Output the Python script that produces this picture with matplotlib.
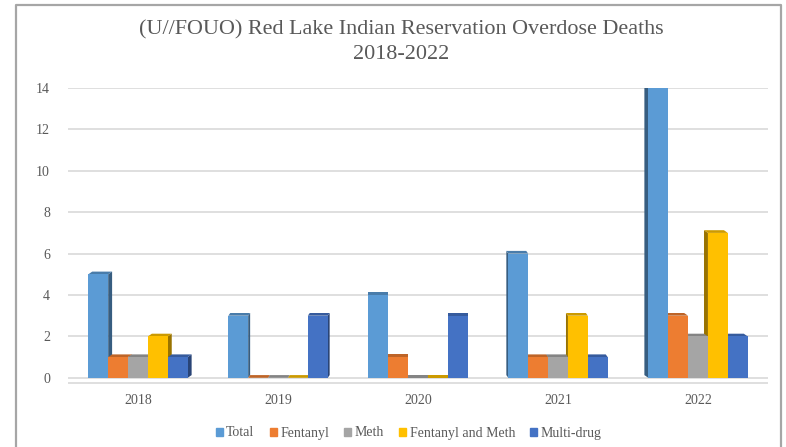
import matplotlib.pyplot as plt
from matplotlib.patches import Polygon, Rectangle
from matplotlib.colors import to_rgb
import numpy as np

years = ['2018', '2019', '2020', '2021', '2022']
series = ['Total', 'Fentanyl', 'Meth', 'Fentanyl and Meth', 'Multi-drug']
total = [5, 3, 4, 6, 14]
fentanyl = [1, 0, 1, 1, 3]
meth = [1, 0, 0, 1, 2]
fent_meth = [2, 0, 0, 3, 7]
multi = [1, 3, 3, 1, 2]
colors = ['#5B9BD5', '#ED7D31', '#A5A5A5', '#FFC000', '#4472C4']

plt.rcParams['font.family'] = ['Liberation Serif', 'DejaVu Serif']

fig = plt.figure(figsize=(7.86, 4.47), dpi=100)
W, H = 786, 447
ax = fig.add_axes([68 / W, (H - 384) / H, 700 / W, (384 - 88) / H])

# chart border (open at the bottom, like the cropped screenshot)
fig.add_artist(plt.Line2D([16 / W, 16 / W, 781 / W, 781 / W],
                          [0, 1 - 5 / H, 1 - 5 / H, 0],
                          transform=fig.transFigure, color='#a6a6a6', lw=1.6))


def shade(c, f):
    r, g, b = to_rgb(c)
    return (r * f, g * f, b * f)


x = np.arange(len(years))
bw = 0.142
data = [total, fentanyl, meth, fent_meth, multi]
dy = 0.13
for j, (vals, c) in enumerate(zip(data, colors)):
    xs = x - 2 * bw + j * bw
    ax.bar(xs, vals, width=bw, color=c, zorder=3, label=series[j])
    for i, (xc, v) in enumerate(zip(xs, vals)):
        dx = (2 - i) * 0.014
        x0, x1 = xc - bw / 2, xc + bw / 2
        if dx > 0:
            side = [(x1, 0), (x1 + dx, dy), (x1 + dx, v + dy), (x1, v)]
        else:
            side = [(x0, 0), (x0 + dx, dy), (x0 + dx, v + dy), (x0, v)]
        if dx != 0:
            ax.add_patch(Polygon(side, closed=True, color=shade(c, 0.6), zorder=2.9, lw=0))
        top = [(x0, v), (x0 + dx, v + dy), (x1 + dx, v + dy), (x1, v)]
        ax.add_patch(Polygon(top, closed=True, color=shade(c, 0.8), zorder=2.95, lw=0))

ax.set_xlim(-0.5, 4.5)
ax.set_ylim(-0.3, 14)
ax.set_yticks(range(0, 15, 2))
ax.set_xticks(x)
ax.set_xticklabels(years)
ax.yaxis.grid(True, color='#d9d9d9', lw=1.2, zorder=0)
ax.axhline(-0.25, color='#d9d9d9', lw=1.2, zorder=1)
for s in ax.spines.values():
    s.set_visible(False)
ax.tick_params(length=0, labelsize=10, labelcolor='#595959')
ax.tick_params(axis='y', pad=13)
ax.tick_params(axis='x', pad=7)

fig.text(0.51, 1 - 42 / H, '(U//FOUO) Red Lake Indian Reservation Overdose Deaths\n2018-2022',
         ha='center', va='center', fontsize=15.9, color='#595959', linespacing=1.4)

handles = [Rectangle((0, 0), 1, 1, color=c) for c in colors]
fig.legend(handles, series, loc='center', bbox_to_anchor=(0.52, 1 - 433 / H), ncol=5,
           frameon=False, fontsize=10, labelcolor='#595959', handlelength=0.5,
           handleheight=0.5, handletextpad=0.25, columnspacing=1.1)

fig.savefig('out.png', dpi=100, facecolor='white')
